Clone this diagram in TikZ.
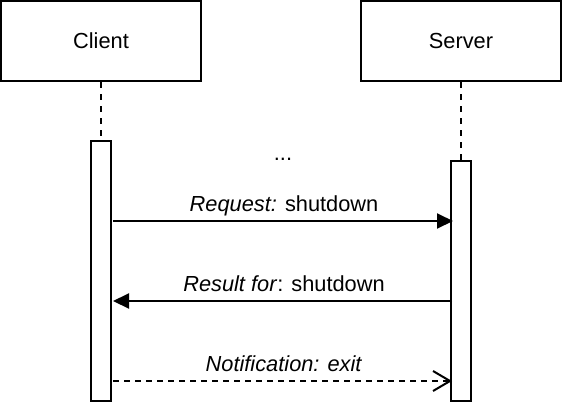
\documentclass[tikz,border=0pt]{standalone}
\usepackage{fontspec}
\setmainfont{Liberation Sans}
\usetikzlibrary{arrows.meta}
\tikzset{
  actorbox/.style={draw, line width=2pt, minimum width=200pt, minimum height=80pt, inner sep=0pt},
  activebar/.style={draw, line width=2pt, fill=white, minimum width=20pt, inner sep=0pt},
  msglabel/.style={inner sep=0pt, anchor=base}
}
\begin{document}
\begin{tikzpicture}[x=1pt, y=-1pt, font=\fontsize{21.8}{26}\selectfont]
                \useasboundingbox (0, 0) rectangle (562, 402);
                \node[actorbox] (client) at (101, 41) {Client};
                \node[actorbox] (server) at (461, 41) {Server};

                \draw[line width=2pt, dash pattern=on 6pt off 6pt] (client.south) -- (101, 141) coordinate (clienttop);
                \draw[line width=2pt, dash pattern=on 6pt off 6pt] (server.south) -- (461, 161) coordinate (servertop);
                \node[activebar, minimum height=260pt] (clientbar) at (101, 271) {};
                \node[activebar, minimum height=240pt] (serverbar) at (461, 281) {};

                \node[msglabel] (dots) at (283, 160) {...};

                \coordinate (reqstart) at (113, 221);
                \coordinate (resend) at (113, 301);
                \coordinate (notstart) at (113, 381);
                \draw[line width=2pt, -{Triangle[length=16pt, width=15pt]}] (reqstart) -- ++(340, 0);
                \draw[line width=2pt, -{Triangle[length=16pt, width=15pt]}] (resend -| serverbar.west) ++(2, 0) -- (resend);
                \draw[line width=2pt, dash pattern=on 6pt off 5pt, -{Straight Barb[length=17pt, width=20pt, line width=2pt]}] (notstart) -- ++(339, 0);

                \node[msglabel] (reqtext) at (284, 211) {\textit{Request:} shutdown};
                \node[msglabel] (restext) at (284, 291) {\textit{Result for}: shutdown};
                \node[msglabel] (nottext) at (284, 371) {\textit{Notification: exit}};
            \end{tikzpicture}
\end{document}
